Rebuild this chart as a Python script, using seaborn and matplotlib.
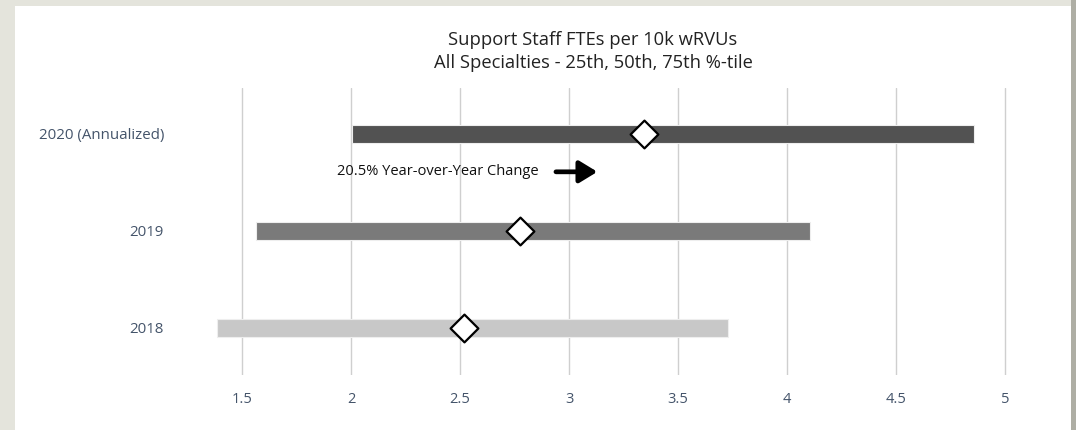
import numpy as np
import pandas as pd
import matplotlib
matplotlib.use("Agg")
import matplotlib.pyplot as plt
from matplotlib.patches import Rectangle
import seaborn as sns

# Datos (percentiles 25, 50, 75)
years = ["2020 (Annualized)", "2019", "2018"]
p25 = [2.005, 1.565, 1.385]
p50 = [3.345, 2.775, 2.518]
p75 = [4.86, 4.105, 3.73]
bar_colors = ["#525252", "#7a7a7a", "#c8c8c8"]
x_ticks = [1.5, 2, 2.5, 3, 3.5, 4, 4.5, 5]
x_tick_labels = ["1.5", "2", "2.5", "3", "3.5", "4", "4.5", "5"]

title = "Support Staff FTEs per 10k wRVUs\nAll Specialties - 25th, 50th, 75th %-tile"
note = "20.5% Year-over-Year Change"

df = pd.DataFrame({"year": years, "p25": p25, "p50": p50, "p75": p75})
df["span"] = df["p75"] - df["p25"]

sns.set_theme(style="white")
plt.rcParams["font.family"] = ["Open Sans", "DejaVu Sans"]

fig = plt.figure(figsize=(10.76, 4.30), dpi=100)
fig.patch.set_facecolor("#e4e4dc")
# tarjeta blanca y borde derecho
fig.patches.append(Rectangle((15 / 1076, 0), 1056 / 1076, 424 / 430,
                             transform=fig.transFigure, facecolor="white",
                             edgecolor="none", zorder=-2))
fig.patches.append(Rectangle((1071 / 1076, 0), 5 / 1076, 1,
                             transform=fig.transFigure, facecolor="#aeaea4",
                             edgecolor="none", zorder=-2))

ax = fig.add_axes([0.1743, 0.1279, 0.7901, 0.6674])
ax.set_zorder(1)
ax.set_facecolor("none")

sns.barplot(data=df, x="span", y="year", left=df["p25"], width=0.19,
            color="#777777", ax=ax, zorder=2)
for patch, c in zip(ax.patches, bar_colors):
    patch.set_facecolor(c)
    patch.set_edgecolor("#eeeeee")
    patch.set_linewidth(0.8)

sns.scatterplot(data=df, x="p50", y="year", marker="D", s=200,
                color="white", edgecolor="black", linewidth=1.6,
                ax=ax, zorder=3, legend=False)

ax.set_xlim(1.25, 5.15)
ax.set_ylim(2.485, -0.474)
ax.set_xticks(x_ticks)
ax.set_xticklabels(x_tick_labels)
ax.xaxis.grid(True, color="#cfcfcf", linewidth=1)
ax.yaxis.grid(False)
ax.set_axisbelow(True)
for s in ax.spines.values():
    s.set_visible(False)
ax.set_xlabel("")
ax.set_ylabel("")
ax.tick_params(axis="x", length=0, pad=12, labelsize=10.5, labelcolor="#44546a")
ax.tick_params(axis="y", length=0, pad=17, labelsize=10.8, labelcolor="#44546a")

# anotación con flecha
ax.text(2.862, 0.39, note, ha="right", va="center", fontsize=10.5, color="#111111")
ax.annotate("", xy=(3.13, 0.39), xytext=(2.94, 0.39),
            arrowprops=dict(arrowstyle="-|>,head_width=0.55,head_length=0.9",
                            lw=3.4, color="black", shrinkA=0, shrinkB=0))

fig.text(593 / 1076, 1 - 51.5 / 430, title, ha="center", va="center",
         fontsize=13.2, color="#222222", linespacing=1.4)

fig.savefig("out.png", dpi=100, facecolor=fig.get_facecolor())
